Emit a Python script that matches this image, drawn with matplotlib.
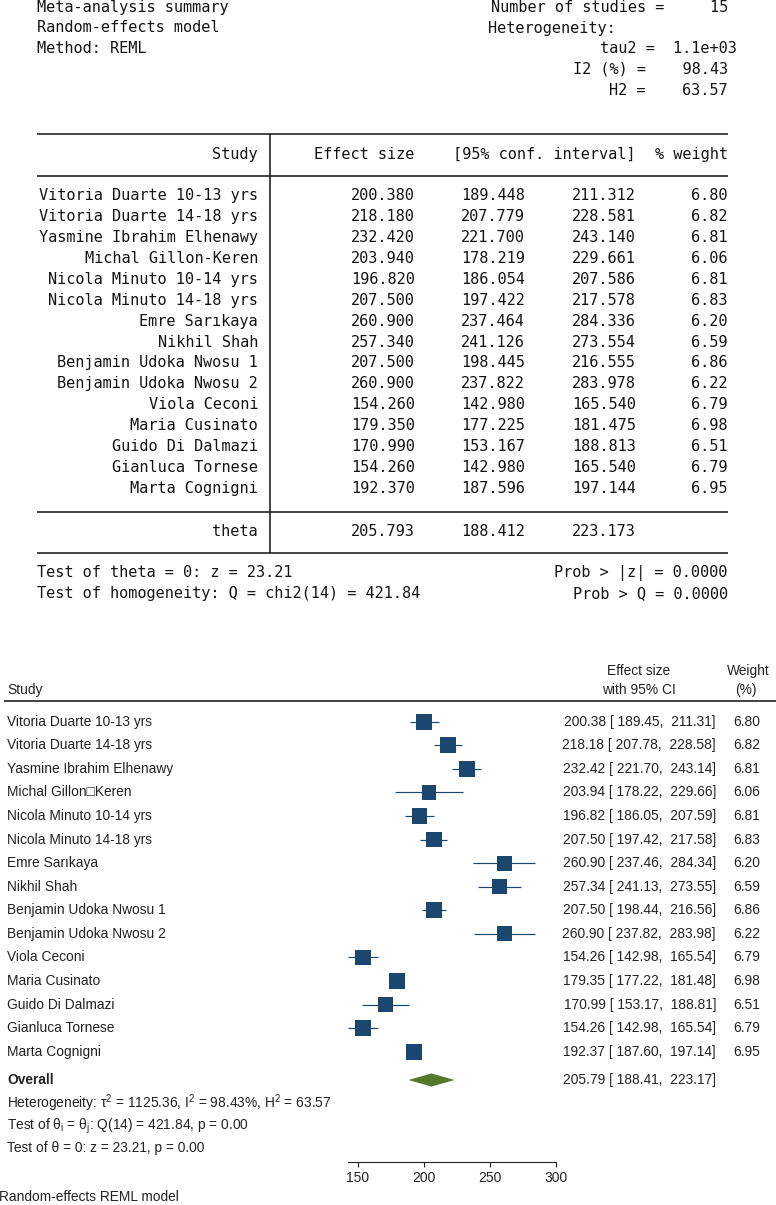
import matplotlib
matplotlib.use("Agg")
import matplotlib.pyplot as plt
import matplotlib.transforms as mtransforms
import numpy as np

# ---------------- data ----------------
studies = ["Vitoria Duarte 10-13 yrs", "Vitoria Duarte 14-18 yrs", "Yasmine Ibrahim Elhenawy",
           "Michal Gillon-Keren", "Nicola Minuto 10-14 yrs", "Nicola Minuto 14-18 yrs",
           "Emre Sarıkaya", "Nikhil Shah", "Benjamin Udoka Nwosu 1", "Benjamin Udoka Nwosu 2",
           "Viola Ceconi", "Maria Cusinato", "Guido Di Dalmazi", "Gianluca Tornese", "Marta Cognigni"]
effect = [200.380, 218.180, 232.420, 203.940, 196.820, 207.500, 260.900, 257.340,
          207.500, 260.900, 154.260, 179.350, 170.990, 154.260, 192.370]
ci_low = [189.448, 207.779, 221.700, 178.219, 186.054, 197.422, 237.464, 241.126,
          198.445, 237.822, 142.980, 177.225, 153.167, 142.980, 187.596]
ci_high = [211.312, 228.581, 243.140, 229.661, 207.586, 217.578, 284.336, 273.554,
           216.555, 283.978, 165.540, 181.4751, 188.813, 165.540, 197.144]
weights = [6.80, 6.82, 6.81, 6.06, 6.81, 6.83, 6.20, 6.59, 6.86, 6.22, 6.79, 6.98, 6.51, 6.79, 6.95]
theta, theta_low, theta_high = 205.793, 188.412, 223.173
n_studies = 15
tau2, i2, h2 = 1125.36, 98.43, 63.57
z_val, q_val, q_df = 23.21, 421.84, 14
xticks = [150, 200, 250, 300]

forest_labels = [s.replace("Gillon-", "Gillon\u25a1") for s in studies]

# ---------------- figure ----------------
W, H = 776, 1205
fig = plt.figure(figsize=(W / 100, H / 100), dpi=100)
fig.patch.set_facecolor("white")

bg = fig.add_axes([0, 0, 1, 1])
bg.set_xlim(0, W)
bg.set_ylim(H, 0)
bg.axis("off")

mono = dict(family=["DejaVu Sans Mono"], fontsize=11.0, color="#141414", va="center")
CW = 9.21
X0 = 37

# header summary
row_h = 20.7
hy = [7.3 + row_h * k for k in range(5)]
bg.text(X0, hy[0], "Meta-analysis summary", ha="left", **mono)
bg.text(X0, hy[1], "Random-effects model", ha="left", **mono)
bg.text(X0, hy[2], "Method: REML", ha="left", **mono)
R = X0 + 75 * CW
bg.text(R, hy[0], f"Number of studies = {n_studies:6d}", ha="right", **mono)
bg.text(R - 26 * CW, hy[1], "Heterogeneity:", ha="left", **mono)
bg.text(R + CW, hy[2], f"tau2 =  {tau2:.1e}", ha="right", **mono)
bg.text(R, hy[3], f"I2 (%) = {i2:8.2f}", ha="right", **mono)
bg.text(R, hy[4], f"H2 = {h2:8.2f}", ha="right", **mono)

# table
c_study = X0 + 24 * CW
c_vline = X0 + 25.3 * CW
c_es = X0 + 41 * CW
c_lo = X0 + 53 * CW
c_hi = X0 + 65 * CW
c_w = R
lw_tab = 1.1
for yy in [134.3, 176.3, 511.7, 553.3]:
    bg.plot([X0, R], [yy, yy], color="#141414", lw=lw_tab, solid_capstyle="butt")
bg.plot([c_vline, c_vline], [134.3, 553.3], color="#141414", lw=lw_tab, solid_capstyle="butt")

bg.text(c_study, 154.5, "Study", ha="right", **mono)
bg.text(c_es, 154.5, "Effect size", ha="right", **mono)
bg.text(c_hi, 154.5, "[95% conf. interval]", ha="right", **mono)
bg.text(c_w, 154.5, "% weight", ha="right", **mono)

ty0, tdy = 195.5, 20.93
for i, s in enumerate(studies):
    yy = ty0 + tdy * i
    bg.text(c_study, yy, s, ha="right", **mono)
    bg.text(c_es, yy, f"{effect[i]:.3f}", ha="right", **mono)
    bg.text(c_lo, yy, f"{ci_low[i]:.3f}", ha="right", **mono)
    bg.text(c_hi, yy, f"{ci_high[i]:.3f}", ha="right", **mono)
    bg.text(c_w, yy, f"{weights[i]:.2f}", ha="right", **mono)

bg.text(c_study, 531, "theta", ha="right", **mono)
bg.text(c_es, 531, f"{theta:.3f}", ha="right", **mono)
bg.text(c_lo, 531, f"{theta_low:.3f}", ha="right", **mono)
bg.text(c_hi, 531, f"{theta_high:.3f}", ha="right", **mono)

bg.text(X0, 572.7, f"Test of theta = 0: z = {z_val:.2f}", ha="left", **mono)
bg.text(X0, 593.3, f"Test of homogeneity: Q = chi2({q_df}) = {q_val:.2f}", ha="left", **mono)
bg.text(R, 572.7, "Prob > |z| = 0.0000", ha="right", **mono)
bg.text(R, 593.3, "Prob > Q = 0.0000", ha="right", **mono)

# ---------------- forest plot ----------------
plt.rcParams["mathtext.fontset"] = "custom"
plt.rcParams["mathtext.rm"] = "Liberation Sans"
plt.rcParams["mathtext.it"] = "Liberation Sans:italic"

px_top, px_bot = 701.0, 1161.7
row0_px, row_px = 721.7, 23.57
y_top = (px_top - row0_px) / row_px
y_bot = (px_bot - row0_px) / row_px

ax_l_px, ax_r_px = 300.0, 600.0
v150_px, scale = 357.7, 1.322
xlim = (150 + (ax_l_px - v150_px) / scale, 150 + (ax_r_px - v150_px) / scale)

ax = fig.add_axes([ax_l_px / W, (H - px_bot) / H, (ax_r_px - ax_l_px) / W, (px_bot - px_top) / H])
ax.patch.set_alpha(0)
ax.set_xlim(*xlim)
ax.set_ylim(y_bot, y_top)

navy = "#1a476f"
green = "#55792a"
rows = np.arange(len(studies))
ax.hlines(rows, ci_low, ci_high, color=navy, lw=0.85, zorder=2)
side_px = 16.0 * np.sqrt(np.array(weights) / max(weights))
ax.scatter(effect, rows, marker="s", s=(side_px * 0.72) ** 2, color=navy, linewidths=0, zorder=3)

y_over = (1080 - row0_px) / row_px
dh = 6.6 / row_px
ax.fill([theta_low, theta, theta_high, theta], [y_over, y_over - dh, y_over, y_over + dh],
        color=green, lw=0, zorder=3)

for sp in ["top", "left", "right"]:
    ax.spines[sp].set_visible(False)
ax.spines["bottom"].set_bounds(min(ci_low), xticks[-1])
ax.spines["bottom"].set_linewidth(0.8)
ax.spines["bottom"].set_color("#222222")
ax.set_yticks([])
ax.set_xticks(xticks)
ax.tick_params(axis="x", length=3.6, width=0.8, pad=3, labelsize=10, colors="#222222",
               labelfontfamily="Liberation Sans")

sans = dict(family=["Liberation Sans", "DejaVu Sans"], fontsize=9.9, color="#222222", va="center")
tr = mtransforms.blended_transform_factory(bg.transData, ax.transData)

# header of forest
bg.text(7, 690, "Study", ha="left", **sans)
bg.text(639, 671, "Effect size", ha="center", **sans)
bg.text(639, 690, "with 95% CI", ha="center", **sans)
bg.text(748, 671, "Weight", ha="center", **sans)
bg.text(746, 690, "(%)", ha="center", **sans)
bg.plot([4, W], [px_top, px_top], color="#222222", lw=1.2, solid_capstyle="butt")

for i, lab in enumerate(forest_labels):
    ax.text(7, i, lab, ha="left", transform=tr, clip_on=False, **sans)
    ax.text(716, i, f"{effect[i]:.2f} [ {ci_low[i]:.2f},  {ci_high[i]:.2f}]", ha="right",
            transform=tr, clip_on=False, **sans)
    ax.text(760, i, f"{weights[i]:.2f}", ha="right", transform=tr, clip_on=False, **sans)

ax.text(7, y_over, "Overall", ha="left", transform=tr, fontweight="bold", **sans)
ax.text(716, y_over, f"{theta:.2f} [ {theta_low:.2f},  {theta_high:.2f}]", ha="right",
        transform=tr, **sans)

bg.text(7, 1103, f"Heterogeneity: τ$^2$ = {tau2:.2f}, I$^2$ = {i2:.2f}%, H$^2$ = {h2:.2f}", ha="left", **sans)
bg.text(7, 1126, f"Test of θ$_\\mathrm{{i}}$ = θ$_\\mathrm{{j}}$: Q({q_df}) = {q_val:.2f}, p = 0.00", ha="left", **sans)
bg.text(7, 1148, f"Test of θ = 0: z = {z_val:.2f}, p = 0.00", ha="left", **sans)
bg.text(-1, 1197, "Random-effects REML model", ha="left", **sans)

fig.savefig("out.png", dpi=100, facecolor="white")
